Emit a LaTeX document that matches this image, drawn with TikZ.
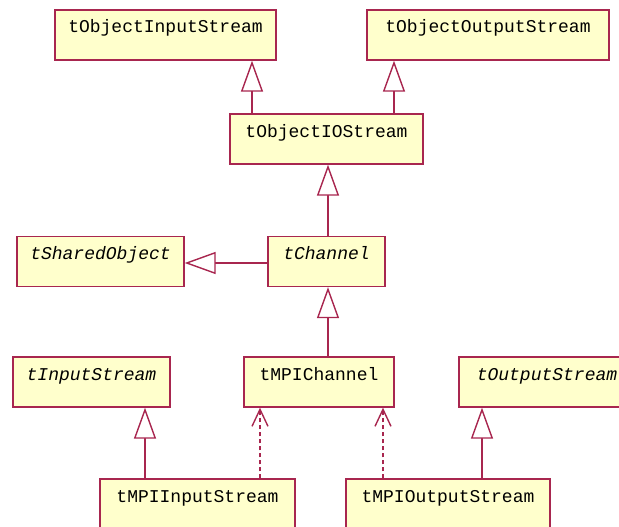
\documentclass[tikz,border=0pt]{standalone}
\usepackage{fontspec}
\setmonofont{Liberation Mono}
\usetikzlibrary{arrows.meta}
\definecolor{umlline}{HTML}{A8264F}
\definecolor{umlfill}{HTML}{FFFFCC}
\tikzset{
  cls/.style={draw=umlline, fill=umlfill, line width=1.4pt, rectangle,
    inner xsep=0pt, inner ysep=0pt, text height=23pt, text depth=27pt,
    font=\ttfamily\fontsize{18}{20}\selectfont, anchor=center},
  abs/.style={cls, font=\ttfamily\itshape\fontsize{18}{20}\selectfont},
  inh/.style={draw=umlline, line width=1.4pt,
    -{Triangle[open, length=31pt, width=22pt, fill=white]}},
  dep/.style={draw=umlline, line width=1.4pt, dash pattern=on 4pt off 3pt,
    -{Straight Barb[length=17pt, width=16pt, line width=1.4pt]}},
}
\begin{document}
\begin{tikzpicture}[x=1pt, y=-1pt]
\useasboundingbox (0,0) rectangle (619,527);
\node[cls, minimum width=221pt] (oin) at (165.5,35) {tObjectInputStream};
\node[cls, minimum width=242pt] (oout) at (488,35) {tObjectOutputStream};
\node[cls, minimum width=193pt] (oio) at (326.5,139) {tObjectIOStream};
\node[abs, minimum width=117pt] (chan) at (326.5,261.5) {tChannel};
\node[abs, minimum width=167pt] (shared) at (100.5,261.5) {tSharedObject};
\node[cls, minimum width=150pt] (mpich) at (319,382) {tMPIChannel};
\node[abs, minimum width=157pt] (in) at (91.5,382) {tInputStream};
\node[abs, minimum width=176pt] (out) at (547,382) {tOutputStream};
\node[cls, minimum width=195pt] (mpiin) at (197.5,504) {tMPIInputStream};
\node[cls, minimum width=204pt] (mpiout) at (448,504) {tMPIOutputStream};
\coordinate (x1) at (252,0);
\coordinate (x2) at (394,0);
\coordinate (x3) at (328,0);
\coordinate (y4) at (0,263);
\coordinate (x5) at (145,0);
\coordinate (x6) at (260,0);
\coordinate (x7) at (383,0);
\coordinate (x8) at (482,0);
\draw[inh] (oio.north -| x1) -- (oin.south -| x1);
\draw[inh] (oio.north -| x2) -- (oout.south -| x2);
\draw[inh] (chan.north -| x3) -- (oio.south -| x3);
\draw[inh] (chan.west |- y4) -- (shared.east |- y4);
\draw[inh] (mpich.north -| x3) -- (chan.south -| x3);
\draw[inh] (mpiin.north -| x5) -- (in.south -| x5);
\draw[dep] (mpiin.north -| x6) -- (mpich.south -| x6);
\draw[dep] (mpiout.north -| x7) -- (mpich.south -| x7);
\draw[inh] (mpiout.north -| x8) -- (out.south -| x8);
\end{tikzpicture}
\end{document}
